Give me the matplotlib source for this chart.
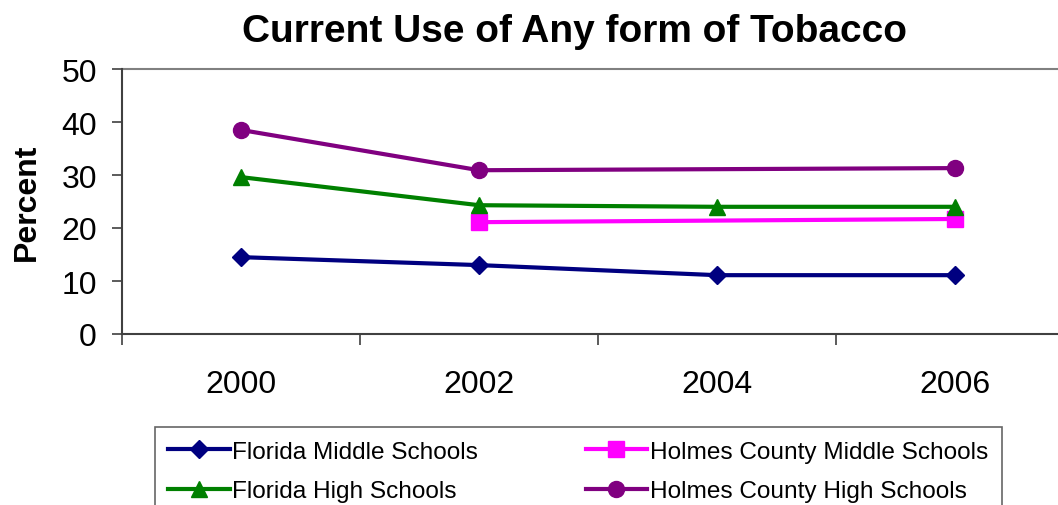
import numpy as np
import matplotlib.pyplot as plt

years = ['2000', '2002', '2004', '2006']
florida_ms = [14.5, 13.0, 11.1, 11.1]
florida_hs = [29.6, 24.3, 24.0, 24.0]
holmes_ms = [np.nan, 21.1, np.nan, 21.7]
holmes_hs = [38.5, 30.9, np.nan, 31.3]

plt.rcParams['font.family'] = ['Liberation Sans', 'DejaVu Sans']

fig = plt.figure(figsize=(10.58, 5.06), dpi=100)
ax = fig.add_axes([122 / 1058, 171 / 506, 952 / 1058, 265 / 506])

x = np.arange(len(years))


def plot_series(values, color, marker, size, label):
    v = np.array(values, dtype=float)
    ok = ~np.isnan(v)
    line, = ax.plot(x[ok], v[ok], color=color, lw=3, marker=marker,
                    markersize=size, label=label, clip_on=False)
    return line


l_fms = plot_series(florida_ms, '#000080', 'D', 9, 'Florida Middle Schools')
l_hms = plot_series(holmes_ms, '#FF00FF', 's', 11, 'Holmes County Middle Schools')
l_fhs = plot_series(florida_hs, '#008000', '^', 12, 'Florida High Schools')
l_hhs = plot_series(holmes_hs, '#800080', 'o', 11.5, 'Holmes County High Schools')

ax.set_xlim(-0.5, 3.5)
ax.set_ylim(0, 50)
ax.axhline(50, color='#808080', lw=1.5, clip_on=False)

ax.set_yticks([0, 10, 20, 30, 40, 50])
ax.set_xticks(x)
ax.set_xticklabels(years)
ax.set_xticks(np.arange(-0.5, 3.6, 1), minor=True)
ax.tick_params(axis='x', which='major', length=0, pad=25, labelsize=23)
ax.tick_params(axis='x', which='minor', length=8, width=1.2, color='#404040')
ax.tick_params(axis='y', length=7, width=1.2, color='#404040', labelsize=23, pad=11)

for side in ['top', 'right']:
    ax.spines[side].set_visible(False)
for side in ['left', 'bottom']:
    ax.spines[side].set_color('#404040')
    ax.spines[side].set_linewidth(1.5)

ax.set_ylabel('Percent', fontsize=23, fontweight='bold', labelpad=14)
fig.text(0.543, 0.937, 'Current Use of Any form of Tobacco', fontsize=28,
         fontweight='bold', ha='center', va='center')

leg = fig.legend(handles=[l_fms, l_fhs, l_hms, l_hhs], ncol=2,
                 loc='upper left', bbox_to_anchor=(155 / 1058, 1 - 428 / 506),
                 fontsize=17.6, frameon=True, fancybox=False, edgecolor='#404040',
                 handlelength=2.5, handletextpad=0.12, columnspacing=4.4,
                 labelspacing=0.72, borderpad=0.55, borderaxespad=0)
leg.get_frame().set_linewidth(1.2)

fig.savefig('out.png', dpi=100)
